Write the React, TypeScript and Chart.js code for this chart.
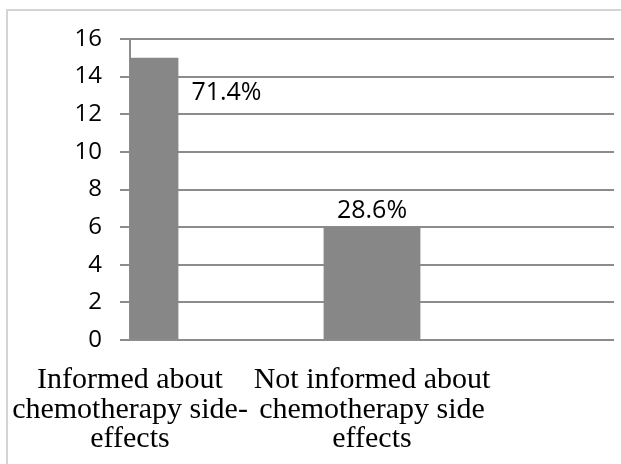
import { useEffect, useRef } from "react";
import { Chart, registerables } from "chart.js";

Chart.register(...registerables);

const categories: (string | string[])[] = [
  ["Informed about", "chemotherapy side-", "effects"],
  ["Not informed about", "chemotherapy side", "effects"],
  "",
];
const counts: (number | null)[] = [15, 6, null];
const percentLabels: string[] = ["71.4%", "28.6%", ""];
const yMin = 0;
const yMax = 16;
const yStep = 2;

const labelPlacement = ["right", "top", "none"];

const percentPlugin = {
  id: "percentLabels",
  afterDatasetsDraw(chart: any) {
    const ctx = chart.ctx;
    const meta = chart.getDatasetMeta(0);
    ctx.save();
    ctx.font = "25px 'Open Sans'";
    ctx.fillStyle = "#000000";
    ctx.textBaseline = "alphabetic";
    meta.data.forEach((bar: any, i: number) => {
      const text = percentLabels[i];
      if (!text || counts[i] == null) return;
      const p = labelPlacement[i];
      if (p === "right") {
        ctx.textAlign = "left";
        ctx.fillText(text, bar.x + bar.width / 2 + 13, bar.y + 42);
      } else if (p === "top") {
        ctx.textAlign = "center";
        ctx.fillText(text, bar.x, bar.y - 9);
      }
    });
    ctx.restore();
  },
};

export default function App() {
  const ref = useRef<HTMLCanvasElement>(null);
  useEffect(() => {
    document.body.style.margin = "0";
    const chart = new Chart(ref.current!, {
      type: "bar",
      data: {
        labels: categories as any,
        datasets: [
          {
            data: counts,
            backgroundColor: "#878787",
            borderWidth: 0,
            categoryPercentage: 0.4,
            barPercentage: 1,
            clip: 0,
          } as any,
        ],
      },
      options: {
        responsive: false,
        animation: false,
        layout: { padding: { top: 39, right: 7, left: 0, bottom: 0 } },
        plugins: {
          legend: { display: false },
          tooltip: { enabled: false },
        },
        scales: {
          x: {
            offset: false,
            grid: {
              display: true,
              drawOnChartArea: false,
              drawTicks: true,
              tickLength: 23,
              color: "rgba(0,0,0,0)",
            },
            border: { display: false },
            ticks: {
              autoSkip: false,
              maxRotation: 0,
              minRotation: 0,
              padding: 3,
              color: "#000000",
              font: { family: "'Liberation Serif', 'Times New Roman', serif", size: 30, lineHeight: 0.97 },
            },
            afterFit(scale: any) {
              scale.height = 124;
            },
          },
          y: {
            min: yMin,
            max: yMax,
            ticks: {
              stepSize: yStep,
              padding: 18,
              color: "#000000",
              font: { family: "'Open Sans'", size: 24 },
            },
            grid: {
              color: "#8c8c8c",
              lineWidth: 2,
              tickLength: 10,
            },
            border: { display: true, color: "#8c8c8c", width: 2 },
            afterFit(scale: any) {
              scale.width = 130;
            },
          },
        },
      },
      plugins: [percentPlugin],
    });
    return () => chart.destroy();
  }, []);
  return (
    <div style={{ position: "relative", width: 621, height: 464, background: "#ffffff", overflow: "hidden" }}>
      <div
        style={{
          position: "absolute",
          left: 6,
          top: 9,
          width: 700,
          height: 600,
          borderLeft: "2px solid #d4d4d4",
          borderTop: "2px solid #d4d4d4",
        }}
      />
      <canvas ref={ref} width={621} height={464} style={{ position: "absolute", left: 0, top: 0 }} />
    </div>
  );
}
